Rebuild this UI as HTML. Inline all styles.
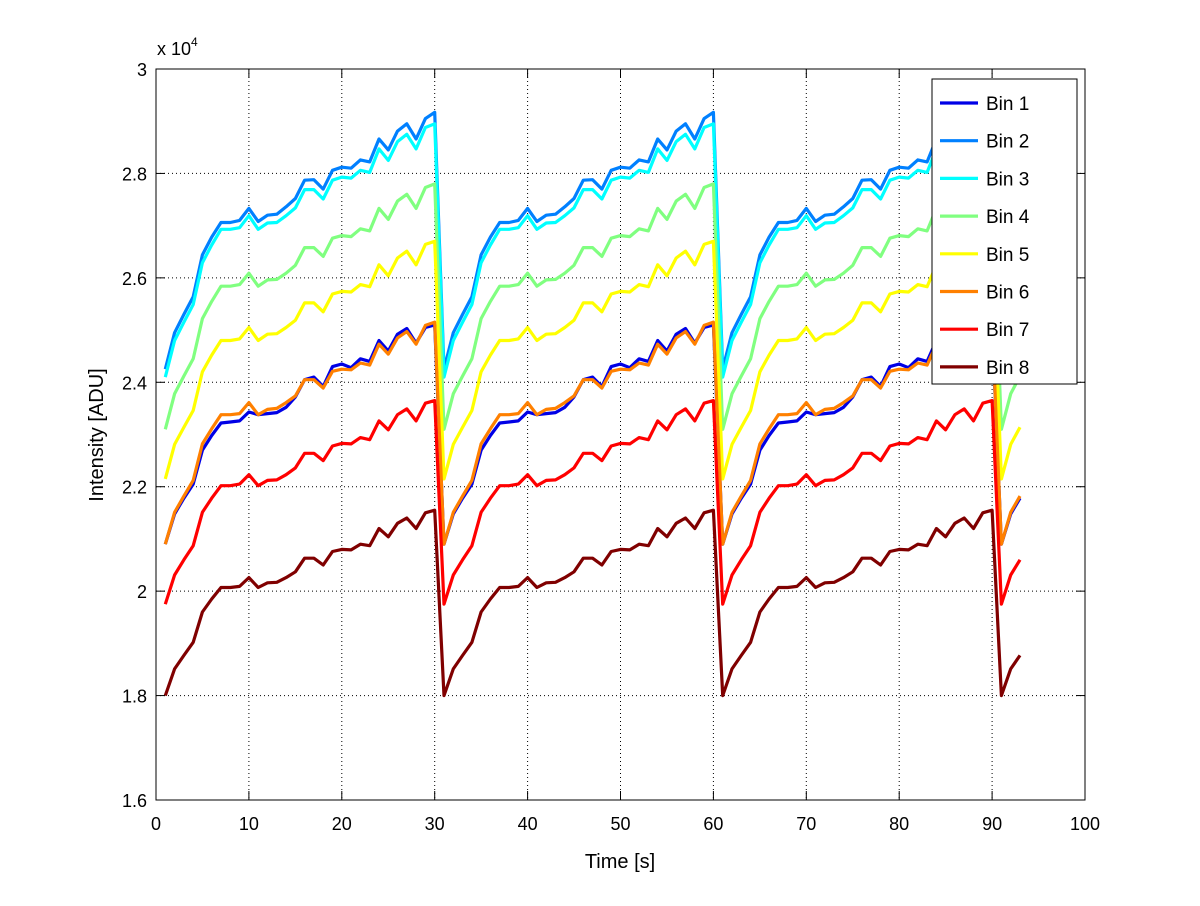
<!DOCTYPE html>
<html><head><meta charset="utf-8"><style>
body{margin:0;background:#fff;}
svg text{font-family:"Liberation Sans",sans-serif;}
</style></head><body>
<svg id="chart" width="1200" height="901" xmlns="http://www.w3.org/2000/svg">
<rect width="1200" height="901" fill="#fff"/>
<g id="grid"></g>
<g id="series"></g>
<rect x="156" y="69" width="929" height="731" fill="none" stroke="#000" stroke-width="1"/>
<g id="ticks"></g>
<text x="157" y="55" font-size="18">x 10<tspan dy="-9" font-size="12">4</tspan></text>
<text x="620" y="868" font-size="20" text-anchor="middle">Time [s]</text>
<text transform="translate(103,435) rotate(-90)" font-size="20" text-anchor="middle">Intensity [ADU]</text>
<g id="legend"></g>
</svg>
<script>
const xTicks=[0,10,20,30,40,50,60,70,80,90,100];
const yTicks=[1.6,1.8,2,2.2,2.4,2.6,2.8,3];
const yTickLabels=["1.6","1.8","2","2.2","2.4","2.6","2.8","3"];
const seriesNames=["Bin 1","Bin 2","Bin 3","Bin 4","Bin 5","Bin 6","Bin 7","Bin 8"];
const colors=["#0000e6","#0080ff","#00ffff","#80ff80","#ffff00","#ff8000","#ff0000","#800000"];
const cycleBin1=[2.09,2.148,2.178,2.205,2.27,2.298,2.322,2.324,2.326,2.343,2.338,2.34,2.342,2.352,2.372,2.405,2.41,2.392,2.43,2.435,2.428,2.445,2.44,2.48,2.46,2.492,2.503,2.475,2.505,2.51];
const cycleBin2=[2.425,2.495,2.53,2.564,2.644,2.678,2.706,2.706,2.71,2.733,2.708,2.72,2.722,2.736,2.752,2.787,2.788,2.77,2.806,2.812,2.81,2.826,2.822,2.866,2.845,2.881,2.895,2.866,2.905,2.917];
const cycleBin3=[2.41,2.48,2.515,2.549,2.629,2.663,2.693,2.693,2.696,2.719,2.693,2.705,2.706,2.719,2.734,2.769,2.769,2.751,2.787,2.793,2.791,2.806,2.802,2.847,2.825,2.861,2.875,2.847,2.888,2.895];
const cycleBin4=[2.31,2.378,2.412,2.445,2.522,2.555,2.584,2.584,2.587,2.609,2.584,2.596,2.597,2.609,2.624,2.658,2.658,2.641,2.676,2.681,2.679,2.694,2.69,2.733,2.712,2.747,2.76,2.733,2.773,2.78];
const cycleBin5=[2.215,2.281,2.314,2.346,2.42,2.452,2.48,2.48,2.483,2.505,2.48,2.492,2.493,2.505,2.519,2.552,2.552,2.535,2.569,2.574,2.573,2.587,2.583,2.625,2.604,2.638,2.651,2.625,2.664,2.67];
const cycleBin6=[2.09,2.151,2.182,2.212,2.282,2.311,2.338,2.338,2.34,2.361,2.338,2.348,2.35,2.361,2.374,2.405,2.405,2.389,2.421,2.425,2.424,2.437,2.433,2.473,2.454,2.485,2.497,2.473,2.509,2.515];
const cycleBin7=[1.975,2.031,2.06,2.087,2.151,2.178,2.202,2.202,2.205,2.223,2.202,2.212,2.213,2.223,2.236,2.264,2.264,2.25,2.278,2.283,2.282,2.294,2.29,2.326,2.309,2.338,2.349,2.326,2.36,2.365];
const cycleBin8=[1.80,1.851,1.877,1.902,1.96,1.985,2.007,2.007,2.009,2.026,2.007,2.016,2.017,2.026,2.037,2.063,2.063,2.05,2.076,2.08,2.079,2.09,2.087,2.12,2.104,2.13,2.14,2.12,2.15,2.155];
const cycles=[cycleBin1,cycleBin2,cycleBin3,cycleBin4,cycleBin5,cycleBin6,cycleBin7,cycleBin8];

const NS="http://www.w3.org/2000/svg";
const X0=156,X1=1085,Y0=800,Y1=69;
const xs=v=>X0+(v-0)/(100-0)*(X1-X0);
const ys=v=>Y0-(v-1.6)/(3-1.6)*(Y0-Y1);
function mk(tag,attrs,parent){const e=document.createElementNS(NS,tag);for(const k in attrs)e.setAttribute(k,attrs[k]);parent.appendChild(e);return e;}
const grid=document.getElementById('grid'),ticks=document.getElementById('ticks');
xTicks.forEach((t,i)=>{
  const x=xs(t);
  if(i>0&&i<xTicks.length-1){const g=mk('line',{x1:x,x2:x,y1:Y1,y2:Y0,stroke:'#000','stroke-width':1,'stroke-dasharray':'1,3'},grid);
  
  }
  mk('line',{x1:x,x2:x,y1:Y0,y2:Y0-9,stroke:'#000'},ticks);
  mk('line',{x1:x,x2:x,y1:Y1,y2:Y1+9,stroke:'#000'},ticks);
  const tx=mk('text',{x:x,y:Y0+30,'font-size':18,'text-anchor':'middle'},ticks);
  tx.textContent=String(t);
  
  
});
yTicks.forEach((t,i)=>{
  const y=ys(t);
  if(i>0&&i<yTicks.length-1){const g=mk('line',{x1:X0,x2:X1,y1:y,y2:y,stroke:'#000','stroke-width':1,'stroke-dasharray':'1,3'},grid);
  
  }
  mk('line',{x1:X0,x2:X0+9,y1:y,y2:y,stroke:'#000'},ticks);
  mk('line',{x1:X1,x2:X1-9,y1:y,y2:y,stroke:'#000'},ticks);
  const tx=mk('text',{x:X0-9,y:y+7,'font-size':18,'text-anchor':'end'},ticks);
  tx.textContent=yTickLabels[i];
  
  
});
const sg=document.getElementById('series');
cycles.forEach((c,i)=>{
  const vals=c.concat(c,c,c.slice(0,3));
  const pts=vals.map((v,j)=>xs(j+1).toFixed(1)+','+ys(v).toFixed(1)).join(' ');
  const p=mk('polyline',{points:pts,fill:'none',stroke:colors[i],'stroke-width':3.2,'stroke-linejoin':'round'},sg);
  
  
});
const lg=document.getElementById('legend');
mk('rect',{x:932,y:79,width:145,height:305,fill:'#fff',stroke:'#000'},lg);
seriesNames.forEach((n,i)=>{
  const y=103+i*37.7;
  const e=mk('g',{},lg);
  
  
  mk('line',{x1:940,x2:978,y1:y,y2:y,stroke:colors[i],'stroke-width':3.2},e);
  const t=mk('text',{x:986,y:y+7,'font-size':19},e);
  t.textContent=n;
});
</script>
</body></html>
